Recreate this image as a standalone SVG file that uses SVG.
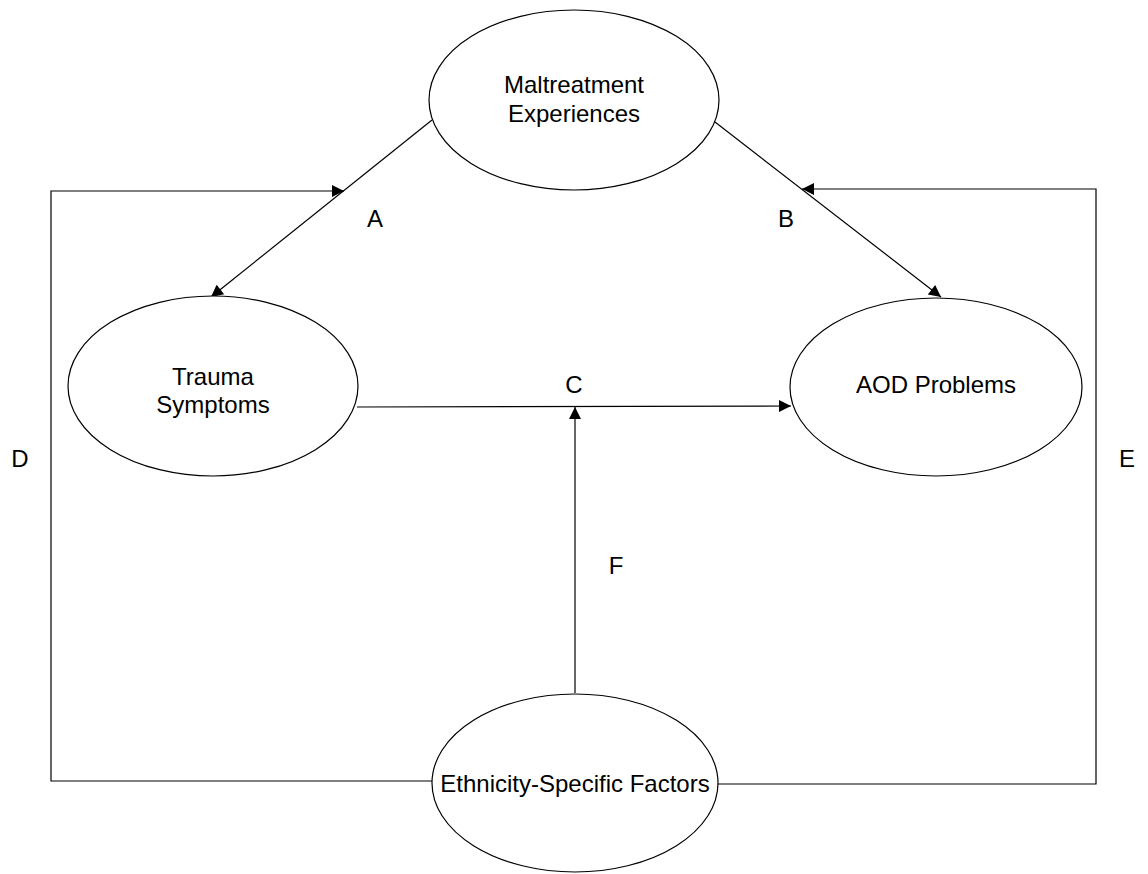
<svg xmlns="http://www.w3.org/2000/svg" width="1148" height="874" viewBox="0 0 1148 874">
<style>
.node{fill:#fff;stroke:#000;stroke-width:1.2}
.t{font-family:"Liberation Sans",Arial,sans-serif;font-size:24px;fill:#000;text-anchor:middle}
.l{font-family:"Liberation Sans",Arial,sans-serif;font-size:24px;fill:#000;text-anchor:middle}
.c{fill:none;stroke:#000;stroke-width:1.2}
</style>
<defs>
<marker id="ah" viewBox="0 0 10 10" refX="10" refY="5" markerWidth="14" markerHeight="12" markerUnits="userSpaceOnUse" orient="auto">
<path d="M0,0 L10,5 L0,10 z" fill="#000"/>
</marker>
</defs>
<rect width="1148" height="874" fill="#fff"/>
<g id="connectors">
<line class="c" x1="432" y1="120" x2="211" y2="297" marker-end="url(#ah)"/>
<line class="c" x1="715" y1="122" x2="941" y2="297" marker-end="url(#ah)"/>
<line class="c" x1="357" y1="407" x2="791" y2="406" marker-end="url(#ah)"/>
<line class="c" x1="575" y1="693" x2="575" y2="407" marker-end="url(#ah)"/>
<polyline class="c" points="432,781 51,781 51,191 344,191" marker-end="url(#ah)"/>
<polyline class="c" points="718,784 1096,784 1096,189 802,189" marker-end="url(#ah)"/>
</g>
<g id="maltreatment">
<ellipse class="node" cx="574" cy="100" rx="145" ry="90"/>
<text class="t" x="574" y="93">Maltreatment</text>
<text class="t" x="574" y="122">Experiences</text>
</g>
<g id="trauma">
<ellipse class="node" cx="213" cy="386" rx="145" ry="90"/>
<text class="t" x="213" y="385">Trauma</text>
<text class="t" x="213" y="413">Symptoms</text>
</g>
<g id="aod">
<ellipse class="node" cx="936" cy="387" rx="146" ry="89"/>
<text class="t" x="936" y="393">AOD Problems</text>
</g>
<g id="ethnicity">
<ellipse class="node" cx="575" cy="783" rx="143" ry="89"/>
<text class="t" x="575" y="792">Ethnicity-Specific Factors</text>
</g>
<g id="labels">
<text class="l" x="375" y="227">A</text>
<text class="l" x="786" y="227">B</text>
<text class="l" x="574" y="393">C</text>
<text class="l" x="20" y="467">D</text>
<text class="l" x="1127" y="467">E</text>
<text class="l" x="616" y="574">F</text>
</g>
</svg>
